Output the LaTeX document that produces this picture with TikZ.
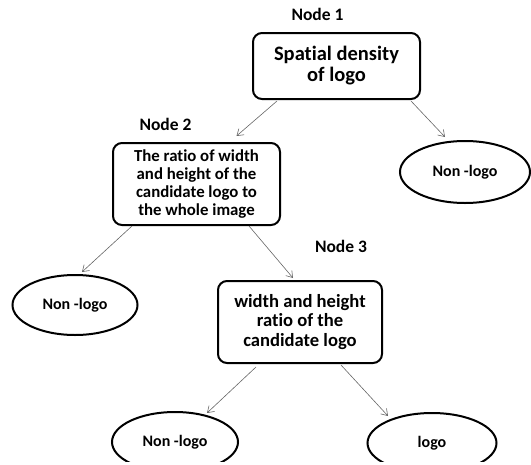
\documentclass[tikz,border=0pt]{standalone}
\usepackage{fontspec}
\setmainfont[Ligatures=NoCommon]{Carlito}
\usetikzlibrary{arrows.meta,positioning,calc,shapes.geometric}
\tikzset{
  test/.style={draw=black, line width=2pt, rounded corners=9pt, fill=white,
               minimum width=167pt, align=center, font=\bfseries, inner sep=2pt},
  leaf/.style={draw=black, line width=2pt, ellipse, fill=white,
               minimum width=127pt, minimum height=60pt, inner sep=0pt,
               font=\fontsize{16}{19}\selectfont\bfseries},
  lbl/.style={font=\fontsize{17.5}{20}\selectfont\bfseries, inner sep=0pt},
  arr/.style={-{Straight Barb[length=6pt,width=8pt]}, draw=black!60, line width=0.6pt},
}

\begin{document}
\begin{tikzpicture}[x=1pt,y=-1pt]
  \useasboundingbox (0,0) rectangle (531,464);
  \clip (0,0) rectangle (531,461);
  % decision nodes
  \node[test, minimum height=66pt, font=\fontsize{20.5}{21}\selectfont\bfseries]
    (b1) at (336.5,66) {Spatial density\\of logo};
  \node[test, minimum height=82pt, font=\fontsize{16.8}{17.7}\selectfont\bfseries]
    (b2) at (196.5,184) {The ratio of width\\and height of the\\candidate logo to\\the whole image};
  \node[test, minimum width=164pt, minimum height=82pt, font=\fontsize{18.6}{19.5}\selectfont\bfseries]
    (b3) at (300,322) {width and height\\ratio of the\\candidate logo};
  \node[lbl, above=11pt of b1, xshift=-19pt] (l1) {Node 1};
  \node[lbl, above=11pt of b2, xshift=-31pt] (l2) {Node 2};
  \node[lbl, above=27pt of b3, xshift=41pt] (l3) {Node 3};
  % leaves
  \node[leaf, minimum width=130pt, minimum height=62pt] (e1) at (465,172) {Non -logo};
  \node[leaf, minimum width=125pt] (e2) at (75,305) {Non -logo};
  \node[leaf, minimum width=126pt] (e3) at (175,442) {Non -logo};
  \node[leaf, minimum width=129pt] (e4) at (432,443) {logo};
  % branches
  \draw[arr] ($(b1.south west)+(25,1)$) -- ($(b2.north)+(40,-6)$);
  \draw[arr] ($(b1.south east)+(-10,1)$) -- ($(e1.north)+(-20,-3)$);
  \draw[arr] ($(b2.south west)+(20,0)$) -- ($(e2.north)+(7,-2)$);
  \draw[arr] ($(b2.south east)+(-32,0)$) -- ($(b3.north)+(-7,-2)$);
  \draw[arr] ($(b3.south west)+(39,3)$) -- ($(e3.north)+(32,2)$);
  \draw[arr] ($(b3.south east)+(-42,1)$) -- ($(e4.north)+(-44,4)$);
\end{tikzpicture}
\end{document}
